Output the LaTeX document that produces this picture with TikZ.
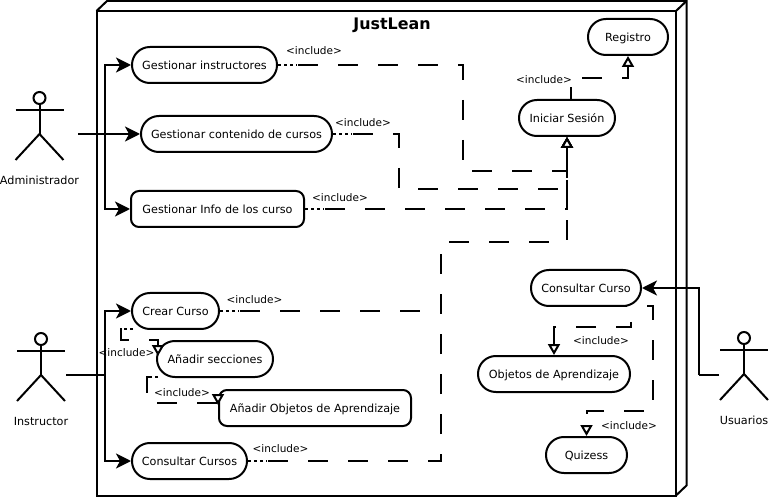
\documentclass[tikz,border=0pt]{standalone}
\usepackage{fontspec}
\setmainfont{DejaVu Sans}
\usetikzlibrary{arrows.meta}
\tikzset{>={Stealth[length=15pt,width=15pt,inset=4pt]}}
\tikzset{
  ucase/.style={draw, line width=2pt, fill=white, rounded corners=17.9pt, minimum height=36pt, inner sep=0pt, text height=9pt, text depth=0pt, font=\fontsize{11.2pt}{13pt}\selectfont},
  ucsquare/.style={ucase, rounded corners=8pt},
  tag/.style={inner sep=0pt, yshift=-1pt, font=\fontsize{10.5pt}{12pt}\selectfont},
  assoc/.style={line width=2pt, ->},
  incl/.style={line width=2pt, dash pattern=on 20pt off 20pt, dash phase=#1, -{Triangle[fill=white,length=11pt,width=12pt]}},
  incl/.default=20pt,
  incldots/.style={line width=2pt, dash pattern=on 3pt off 3pt},
}
\newcommand\actor[4]{%
  \begin{scope}[shift={(#1)}, line width=2pt]
    \draw (0,-12) circle(6pt);
    \draw (-24,0)--(24,0);
    \draw (0,-6)--(0,24);
    \draw (-24,50)--(0,24)--(24,50);
    \node[inner sep=0pt, font=\fontsize{11.2pt}{13pt}\selectfont] (#2) at (#4,70) {#3};
  \end{scope}}

\begin{document}
\begin{tikzpicture}[x=1pt, y=-1pt]
  \useasboundingbox (0,0) rectangle (769,497);

  %% frame
  \draw[line width=2pt] (96.5,11) rectangle (676,495.5);
  \draw[line width=2pt] (96.5,11)--(107,1)--(686.5,1)--(686.5,485.5)--(676,495.5);
  \draw[line width=2pt] (676,11)--(686.5,1);
  \node[inner sep=0pt, font=\fontsize{15.9pt}{18pt}\selectfont\bfseries] (title) at (392,25) {JustLean};

  %% actors
  \actor{39.5,110}{admin}{Administrador}{0}
  \actor{41,351}{instr}{Instructor}{0}
  \actor{744,350}{users}{Usuarios}{0}

  %% use cases
  \node[ucase, minimum width=145pt] (ginst) at (204.5,65) {Gestionar instructores};
  \node[ucase, minimum width=191pt] (gcont) at (236.5,134) {Gestionar contenido de cursos};
  \node[ucsquare, minimum width=173pt] (ginfo) at (217.5,209) {Gestionar Info de los curso};
  \node[ucase, minimum width=80pt] (reg) at (628,37) {Registro};
  \node[ucase, minimum width=96pt] (login) at (567,118) {Iniciar Sesión};
  \node[ucase, minimum width=87pt] (crear) at (175.5,311) {Crear Curso};
  \node[ucase, minimum width=116pt] (secc) at (215,359) {Añadir secciones};
  \node[ucsquare, minimum width=192pt] (objs) at (315,408) {Añadir Objetos de Aprendizaje};
  \node[ucase, minimum width=115pt] (ccursos) at (189.5,461) {Consultar Cursos};
  \node[ucase, minimum width=110pt] (ccurso) at (586,288) {Consultar Curso};
  \node[ucase, minimum width=152pt] (oapr) at (554,374) {Objetos de Aprendizaje};
  \node[ucase, minimum width=81pt] (quiz) at (586.5,455) {Quizess};

  %% bends
  \coordinate (adminL) at (78,134);
  \coordinate (adminB) at (105,134);
  \coordinate (instrL) at (66,375);
  \coordinate (instrB) at (105,375);
  \coordinate (usersR) at (719,375);
  \coordinate (usersB) at (699,375);

  \coordinate (a1) at (463,65);
  \coordinate (a2) at (463,171);
  \coordinate (b1) at (399,134);
  \coordinate (b2) at (399,189);
  \coordinate (c1) at (567,209);
  \coordinate (d1) at (441,311);
  \coordinate (e1) at (441,461);
  \coordinate (e2) at (441,242);
  \coordinate (e3) at (567,242);
  \coordinate (f0) at (571,100);
  \coordinate (f1) at (571,78);
  \coordinate (f2) at (628,78);
  \coordinate (g0) at (133,329);
  \coordinate (g1) at (121,329);
  \coordinate (g2) at (121,340);
  \coordinate (g3) at (158,340);
  \coordinate (g4) at (158,356);
  \coordinate (h0) at (158,377);
  \coordinate (h1) at (147,377);
  \coordinate (h2) at (147,403);
  \coordinate (h3) at (218,403);
  \coordinate (h4) at (218,396);
  \coordinate (h5) at (218,405);
  \coordinate (i0) at (587,306);
  \coordinate (i1) at (631,306);
  \coordinate (i2) at (631,327);
  \coordinate (i3) at (554,327);
  \coordinate (j1) at (653,306);
  \coordinate (j2) at (653,411);
  \coordinate (j3) at (586.5,411);

  %% actor lines
  \draw[assoc] (adminL)--(gcont.west);
  \draw[assoc] (adminB) |- (ginst.west);
  \draw[assoc] (adminB) |- (ginfo.west);
  \draw[line width=2pt] (instrL)--(instrB);
  \draw[assoc] (instrB) |- (crear.west);
  \draw[assoc] (instrB) |- (ccursos.west);
  \draw[line width=2pt] (usersR)--(usersB);
  \draw[assoc] (usersB) |- (ccurso.east);

  %% include lines
  \draw[incldots] (ginst.east)--++(19,0);
  \draw[incl] (ginst.east)--(a1)--(a2)--(a2-|login.south)--(login.south);
  \draw[incldots] (gcont.east)--++(19,0);
  \draw[incl] (gcont.east)--(b1)--(b2)--(b2-|login.south)--(login.south);
  \draw[incldots] (ginfo.east)--++(19,0);
  \draw[incl] (ginfo.east)--(c1)--(login.south);
  \draw[incldots] (crear.east)--++(19,0);
  \draw[line width=2pt, dash pattern=on 20pt off 20pt, dash phase=20pt] (crear.east)--(d1);
  \draw[incldots] (ccursos.east)--++(19,0);
  \draw[incl] (ccursos.east)--(e1)--(e2)--(e3)--(login.south);
  \draw[incl=7pt] (f0)--(f1)--(f2)--(reg.south);
  \draw[incldots] (g0)--(g1);
  \draw[incl=29pt] (g0)--(g1)--(g2)--(g3)--(g4);
  \draw[incldots] (h0)--(h1);
  \draw[incl=33pt] (h0)--(h1)--(h2)--(h3)--(h4)--(h5);
  \draw[incl] (i0)--(i1)--(i2)--(i3)--(oapr.north);
  \draw[incl] (i0)--(j1)--(j2)--(j3)--(quiz.north);

  %% labels
  \node[tag] (t1) at (314,50) {<include>};
  \node[tag] (t2) at (363,122) {<include>};
  \node[tag] (t3) at (340,197) {<include>};
  \node[tag] (t4) at (544,79) {<include>};
  \node[tag] (t5) at (254.5,299) {<include>};
  \node[tag] (t6) at (126.5,352) {<include>};
  \node[tag] (t7) at (182,392) {<include>};
  \node[tag] (t8) at (280.5,448) {<include>};
  \node[tag] (t9) at (601,340) {<include>};
  \node[tag] (t10) at (629,425) {<include>};
\end{tikzpicture}
\end{document}
